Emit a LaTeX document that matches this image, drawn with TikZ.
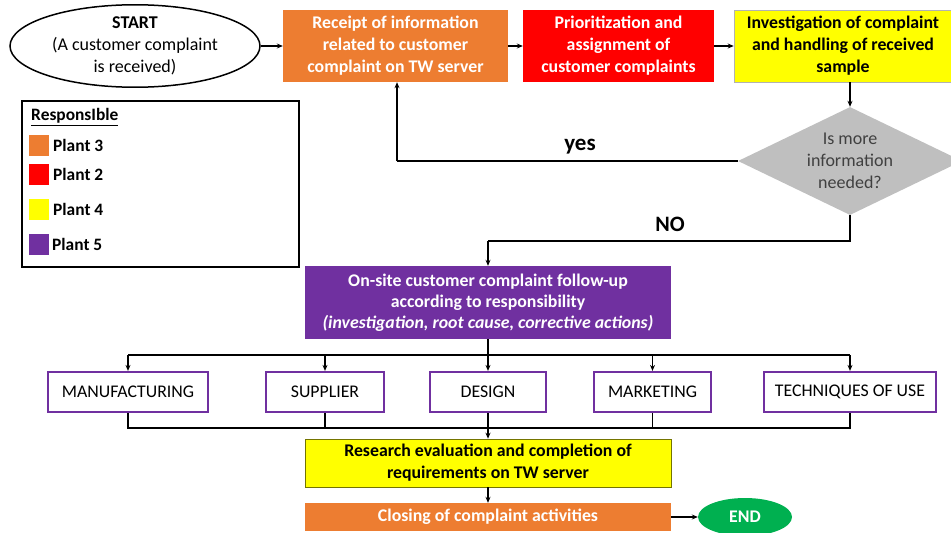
\documentclass[tikz,border=0pt]{standalone}
\usepackage{fontspec}
\setmainfont{Carlito}
\usetikzlibrary{shapes.geometric,arrows.meta}
\definecolor{corange}{HTML}{ED7D31}
\definecolor{cred}{HTML}{FF0000}
\definecolor{cyellow}{HTML}{FFFF00}
\definecolor{cpurple}{HTML}{7030A0}
\definecolor{cgreen}{HTML}{00B050}
\definecolor{cgray}{HTML}{BFBFBF}
\definecolor{ctext}{HTML}{404040}
\begin{document}
\begin{tikzpicture}[x=1pt,y=-1pt,
  box/.style={rectangle, inner sep=0pt, align=center, font=\bfseries\fontsize{17.8}{22}\selectfont, text=white},
  sub/.style={rectangle, draw=cpurple, line width=2.2pt, fill=white, inner sep=0pt, minimum height=40pt, font=\fontsize{17.8}{20}\selectfont},
  sw/.style={rectangle, inner sep=0pt, minimum width=20pt, minimum height=21pt},
  lab/.style={anchor=west, inner sep=0pt, font=\bfseries\fontsize{17.4}{20}\selectfont},
  arr/.style={-{Stealth[length=6pt,width=5pt]}, line width=1.4pt},
  ln/.style={line width=1.4pt}]
\useasboundingbox (0,0) rectangle (951,533);

% top row
\node[ellipse, draw, line width=1.5pt, minimum width=250pt, minimum height=72pt, inner sep=0pt, align=center, font=\fontsize{18}{22}\selectfont] (start) at (135,46) {\textbf{START}\\(A customer complaint\\is received)};
\node[box, fill=corange, minimum width=225pt, minimum height=72pt] (recv) at (395.5,46) {Receipt of information\\related to customer\\complaint on TW server};
\node[box, fill=cred, minimum width=191pt, minimum height=72pt] (prio) at (618.5,46) {Prioritization and\\assignment of\\customer complaints};
\node[box, fill=cyellow, draw=black!30, line width=0.6pt, text=black, minimum width=218pt, minimum height=72pt] (inv) at (843,46) {Investigation of complaint\\and handling of received\\sample};

% decision
\node[diamond, fill=cgray, inner sep=0pt, aspect=2.07, minimum width=224pt, minimum height=108pt, align=center, text=ctext, font=\fontsize{18}{22}\selectfont] (dec) at (850,161) {Is more\\information\\needed?};

% legend
\node[rectangle, draw, line width=2pt, minimum width=277pt, minimum height=166pt, inner sep=0pt] (legend) at (160.5,184) {};
\node[lab, anchor=west] (resp) at (31,117) {\underline{ResponsIble}};
\node[sw, fill=corange] (s3) at (39,145) {};
\node[sw, fill=cred] (s2) at (39,174) {};
\node[sw, fill=cyellow] (s4) at (39,209) {};
\node[sw, fill=cpurple] (s5) at (39,244) {};
\node[lab] (l3) at (53,145) {Plant 3};
\node[lab] (l2) at (53,174) {Plant 2};
\node[lab] (l4) at (53,209) {Plant 4};
\node[lab] (l5) at (52,244) {Plant 5};

% purple box
\node[box, fill=cpurple, minimum width=366pt, minimum height=73pt, font=\bfseries\fontsize{17.8}{21}\selectfont] (onsite) at (488,302.5) {On-site customer complaint follow-up\\according to responsibility\\\textit{(investigation, root cause, corrective actions)}};

% sub boxes
\node[sub, minimum width=160pt] (manu) at (128,392) {MANUFACTURING};
\node[sub, minimum width=118pt] (supp) at (325,392) {SUPPLIER};
\node[sub, minimum width=116pt] (design) at (488,392) {DESIGN};
\node[sub, minimum width=117pt] (mark) at (652.5,392) {MARKETING};
\node[sub, minimum width=172pt] (tech) at (850,392) {TECHNIQUES OF USE};

% bottom
\node[box, fill=cyellow, draw=black!35!cyellow!70!black, line width=0.6pt, text=black, minimum width=366pt, minimum height=48pt] (research) at (488,463) {Research evaluation and completion of\\requirements on TW server};
\node[box, fill=corange, minimum width=366pt, minimum height=28pt] (close) at (488,517) {Closing of complaint activities};
\node[ellipse, fill=cgreen, minimum width=94pt, minimum height=38pt, inner sep=0pt, text=white, font=\bfseries\fontsize{17.8}{20}\selectfont] (end) at (745,517) {END};

% labels
\node[inner sep=0pt, font=\bfseries\fontsize{23}{24}\selectfont] (yes) at (580,147) {yes};
\node[inner sep=0pt, font=\bfseries\fontsize{22}{24}\selectfont] (no) at (670,224) {NO};

% coordinates
\coordinate (ytop) at (397,161);
\coordinate (nod) at (850,241);
\coordinate (nol) at (488,241);
\coordinate (bj) at (488,355);
\coordinate (bl) at (128,355);
\coordinate (br) at (850,355);
\coordinate (cl) at (128,428);
\coordinate (cr) at (850,428);
\coordinate (cj) at (488,428);

% connectors
\draw[arr] (start) -- (recv);
\draw[arr] (recv) -- (prio);
\draw[arr] (prio) -- (inv);
\draw[arr] (inv.south -| dec.north) -- (dec.north);
\draw[ln] (dec.west) -- (ytop);
\draw[arr] (ytop) -- (recv.south -| ytop);
\draw[ln] (dec.south) -- (nod) -- (nol);
\draw[arr] (nol) -- (onsite.north);
\draw[ln] (onsite.south) -- (bj);
\draw[ln] (bl) -- (br);
\draw[arr] (bl) -- (manu.north);
\draw[arr] (bj -| supp.north) -- (supp.north);
\draw[arr] (bj) -- (design.north);
\draw[arr] (bj -| mark.north) -- (mark.north);
\draw[arr] (br) -- (tech.north);
\draw[ln] (manu.south) -- (cl) -- (cr) -- (tech.south);
\draw[ln] (supp.south) -- (cl -| supp.south);
\draw[ln] (design.south) -- (cj);
\draw[ln] (mark.south) -- (cl -| mark.south);
\draw[arr] (cj) -- (research.north);
\draw[arr] (research) -- (close);
\draw[arr] (close) -- (end);
\end{tikzpicture}
\end{document}
